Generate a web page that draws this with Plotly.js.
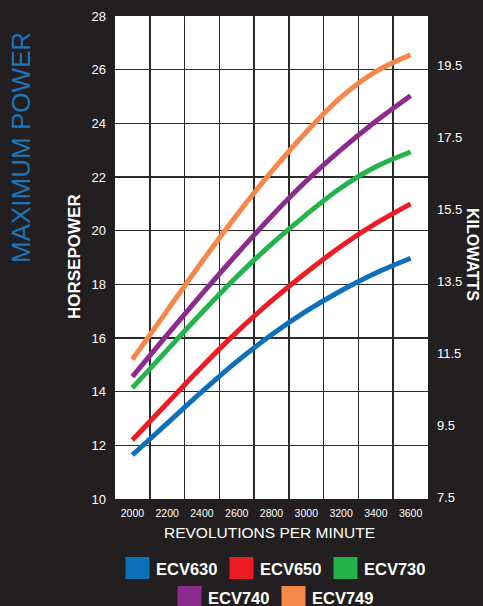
<!DOCTYPE html>
<html>
<head>
<meta charset="utf-8">
<script src="https://cdn.plot.ly/plotly-3.0.1.min.js"></script>
<style>
  html, body { margin: 0; padding: 0; background: #231f20; }
  #chart { width: 483px; height: 606px; }
</style>
</head>
<body>
<div id="chart"></div>
<script>
// ---- data (horsepower vs rpm) ----
const rpm = [2000, 2200, 2400, 2600, 2800, 3000, 3200, 3400, 3600];
const ecv630 = [11.64, 12.82, 14.0, 15.12, 16.12, 17.0, 17.76, 18.42, 18.97];
const ecv650 = [12.2, 13.57, 14.93, 16.22, 17.38, 18.44, 19.42, 20.27, 21.0];
const ecv730 = [14.14, 15.55, 16.95, 18.28, 19.5, 20.6, 21.6, 22.38, 22.93];
const ecv740 = [14.56, 16.12, 17.64, 19.12, 20.54, 21.85, 23.02, 24.08, 25.03];
const ecv749 = [15.2, 17.02, 18.84, 20.58, 22.2, 23.68, 24.98, 25.93, 26.55];

const seriesNames = ["ECV630", "ECV650", "ECV730", "ECV740", "ECV749"];
const seriesValues = [ecv630, ecv650, ecv730, ecv740, ecv749];
const seriesColors = ["#0d70b8", "#ed1c24", "#25b34b", "#8c2a8e", "#f5874a"];

const hpTicks = [10, 12, 14, 16, 18, 20, 22, 24, 26, 28];
const kwTicks = [7.5, 9.5, 11.5, 13.5, 15.5, 17.5, 19.5];
const rpmTicks = [2000, 2200, 2400, 2600, 2800, 3000, 3200, 3400, 3600];
const HP_TO_KW = 0.7457;

// ---- layout geometry helpers ----
const W = 483, H = 606;
const M = { l: 115, r: 55, t: 16, b: 107 };
const PW = W - M.l - M.r, PH = H - M.t - M.b;
const fx = px => (px - M.l) / PW;
const fy = py => 1 - (py - M.t) / PH;

const BG = "#231f20";
const FONT = "Liberation Sans, Arial, sans-serif";
const NARROW = "Liberation Sans Narrow, Liberation Sans, Arial, sans-serif";

const traces = seriesNames.map((name, i) => ({
  type: "scatter",
  mode: "lines",
  name: name,
  x: rpm,
  y: seriesValues[i],
  line: { color: seriesColors[i], width: 5, shape: "spline", smoothing: 1 },
  showlegend: false,
  hoverinfo: "skip"
}));

// invisible companion trace to carry the kilowatt axis
traces.push({
  type: "scatter", mode: "lines", x: rpm,
  y: ecv630.map(v => v * HP_TO_KW), yaxis: "y2",
  line: { width: 0, color: "rgba(0,0,0,0)" },
  showlegend: false, hoverinfo: "skip"
});

const shapes = [];
const annotations = [];

// manual legend (two centered rows)
const rows = [[0, 1, 2], [3, 4]];
const rowY = [[557, 579], [586, 608]];
const pitch = 104, sw = 24, center = 275;
rows.forEach((row, r) => {
  const span = row.length * pitch - 13;
  let x0 = center - span / 2;
  row.forEach((idx, k) => {
    const sx = x0 + k * pitch;
    shapes.push({
      type: "rect", xref: "paper", yref: "paper",
      x0: fx(sx), x1: fx(sx + sw), y0: fy(rowY[r][1]), y1: fy(rowY[r][0]),
      fillcolor: seriesColors[idx], line: { width: 0 }
    });
    annotations.push({
      xref: "paper", yref: "paper", x: fx(sx + sw + 4), y: fy((rowY[r][0] + rowY[r][1]) / 2 + 1),
      xanchor: "left", yanchor: "middle", showarrow: false,
      text: "<b>" + seriesNames[idx] + "</b>",
      font: { family: FONT, size: 16.5, color: "#ffffff" }
    });
  });
});

// titles
annotations.push({
  xref: "paper", yref: "paper", x: fx(21), y: fy(148), xanchor: "center", yanchor: "middle",
  showarrow: false, textangle: -90, text: "MAXIMUM POWER",
  font: { family: FONT, size: 26, color: "#1b76bc" }
});
annotations.push({
  xref: "paper", yref: "paper", x: fx(74), y: fy(257), xanchor: "center", yanchor: "middle",
  showarrow: false, textangle: -90, text: "<b>HORSEPOWER</b>",
  font: { family: NARROW, size: 17, color: "#ffffff" }
});
annotations.push({
  xref: "paper", yref: "paper", x: fx(472), y: fy(254), xanchor: "center", yanchor: "middle",
  showarrow: false, textangle: 90, text: "<b>KILOWATTS</b>",
  font: { family: NARROW, size: 16, color: "#ffffff" }
});
annotations.push({
  xref: "paper", yref: "paper", x: fx(269), y: fy(532), xanchor: "center", yanchor: "middle",
  showarrow: false, text: "REVOLUTIONS PER MINUTE",
  font: { family: FONT, size: 15.5, color: "#ffffff" }
});

const gridColor = "#2b2b2b";

const layout = {
  width: W, height: H,
  margin: M,
  paper_bgcolor: BG,
  plot_bgcolor: "#ffffff",
  showlegend: false,
  font: { family: FONT, color: "#ffffff" },
  xaxis: {
    range: [1900, 3700],
    tickmode: "array", tickvals: rpmTicks, ticktext: rpmTicks.map(String),
    showgrid: false, zeroline: false, showline: false,
    ticks: "", ticklabelstandoff: 6,
    tickfont: { family: NARROW, size: 10.5, color: "#ffffff" },
    minor: { tick0: 2100, dtick: 200, showgrid: true, gridcolor: gridColor, gridwidth: 1.5, ticks: "" },
    fixedrange: true
  },
  yaxis: {
    range: [10, 28],
    tickmode: "array", tickvals: hpTicks, ticktext: hpTicks.map(String),
    showgrid: true, gridcolor: gridColor, gridwidth: 1.6,
    zeroline: false, showline: false, ticks: "", ticklabelstandoff: 8,
    tickfont: { family: FONT, size: 13, color: "#ffffff" },
    fixedrange: true
  },
  yaxis2: {
    overlaying: "y", side: "right",
    range: [10 * HP_TO_KW, 28 * HP_TO_KW],
    tickmode: "array", tickvals: kwTicks, ticktext: kwTicks.map(v => v.toFixed(1)),
    showgrid: false, zeroline: false, showline: false, ticks: "", ticklabelstandoff: 8,
    tickfont: { family: FONT, size: 13, color: "#ffffff" },
    fixedrange: true
  },
  shapes: shapes,
  annotations: annotations
};

Plotly.newPlot("chart", traces, layout, { displayModeBar: false, staticPlot: true });
</script>
</body>
</html>
